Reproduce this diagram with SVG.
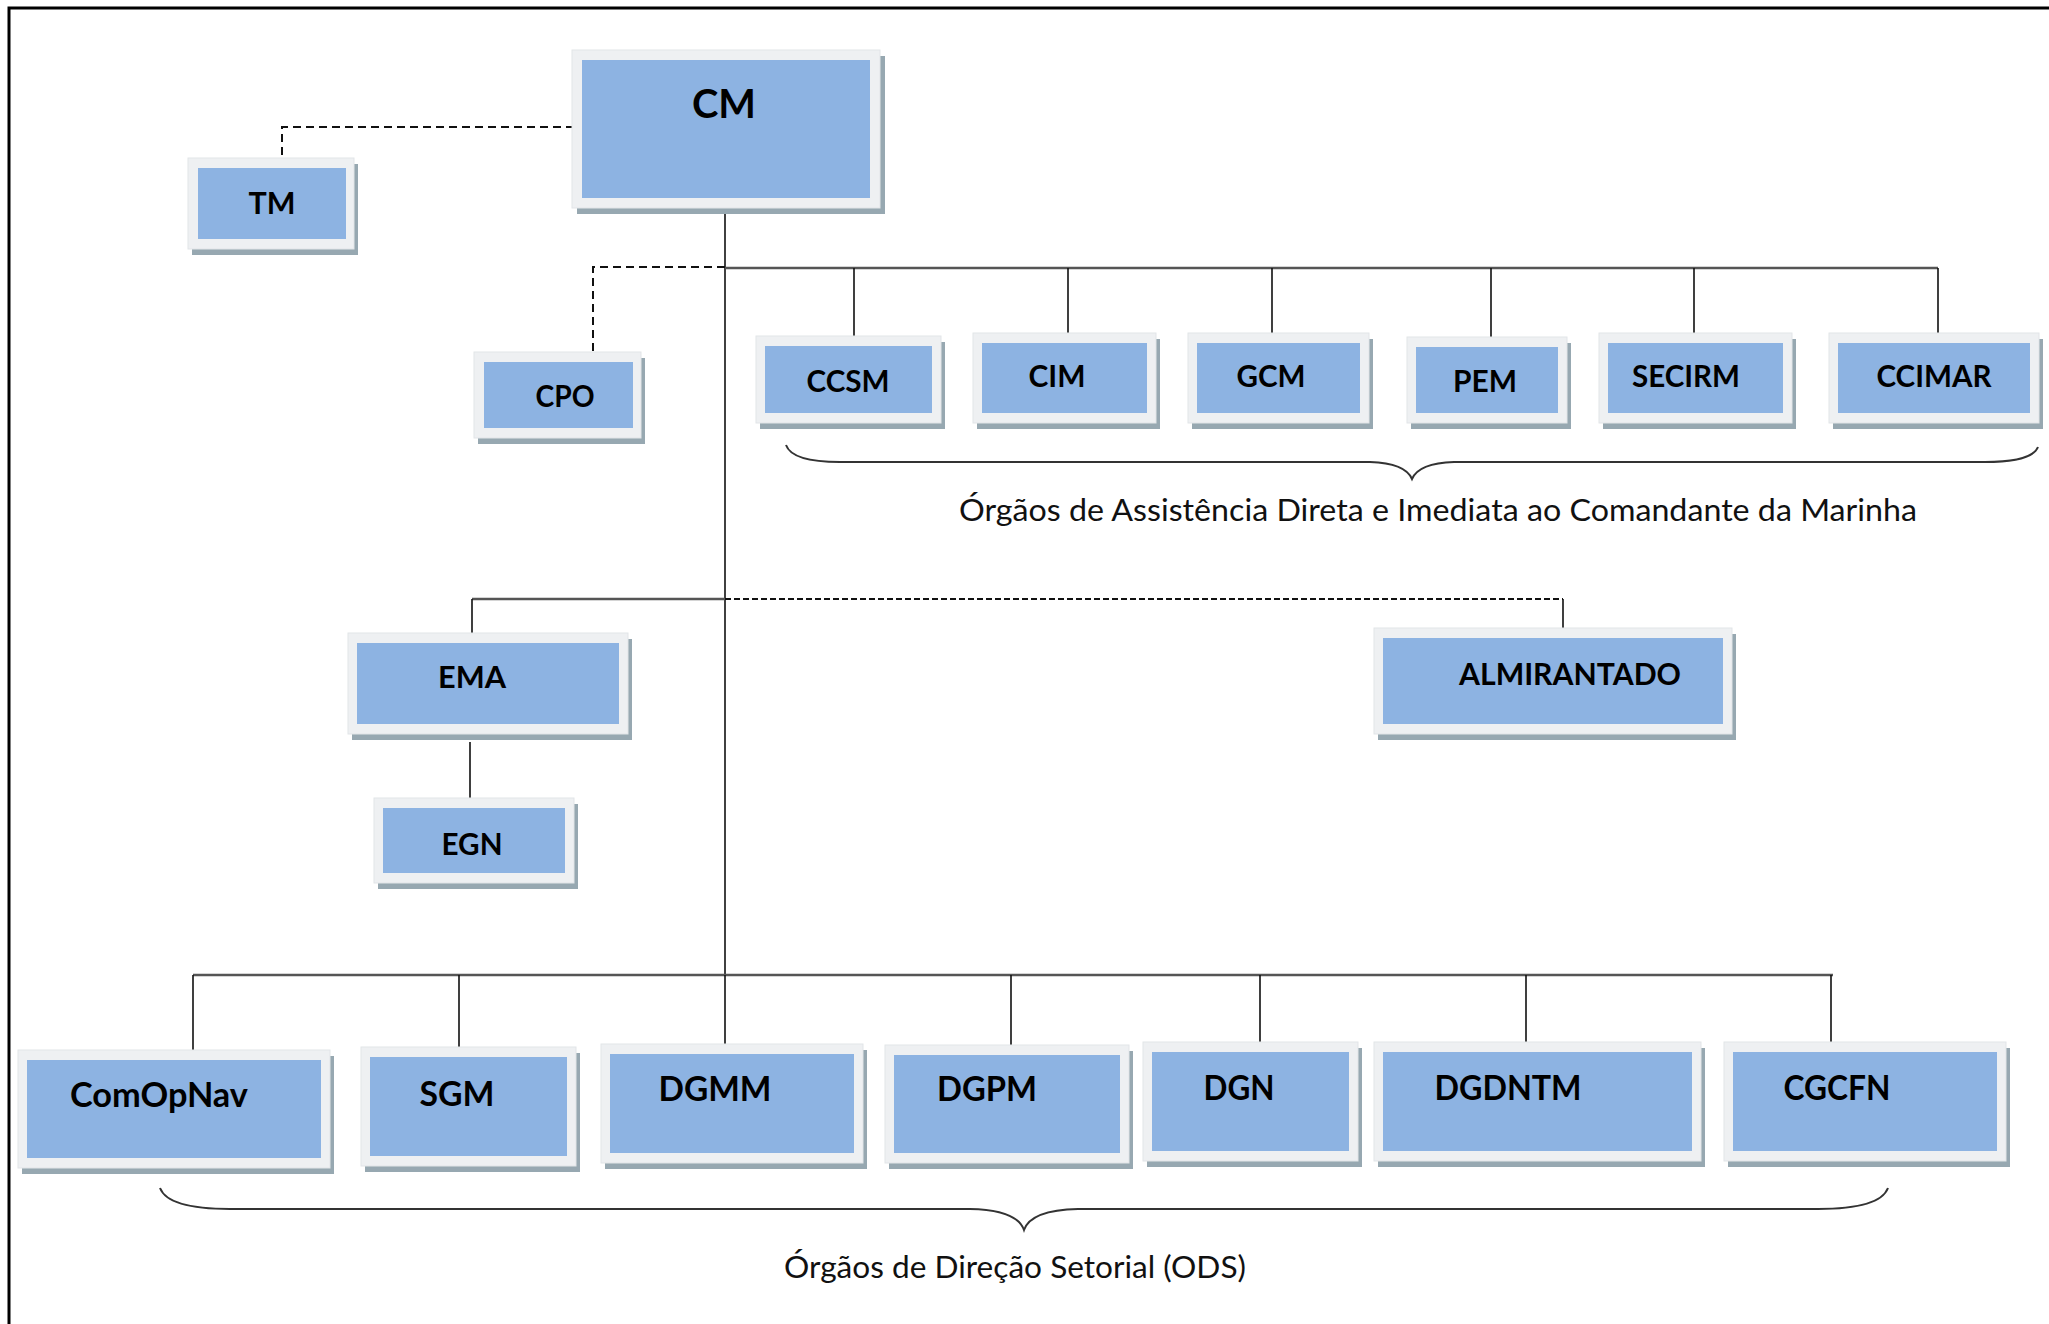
<svg xmlns="http://www.w3.org/2000/svg" width="2049" height="1324" viewBox="0 0 2049 1324">
<style>
.sh{fill:#97A8B1}
.fr{fill:#EEF0F2;stroke:#E2E5E8;stroke-width:1}
.in{fill:#8DB3E2}
.lb{font-family:"Lato","Liberation Sans",sans-serif;font-weight:bold;fill:#000;text-anchor:middle}
.s1{font-size:31px}
.s2{font-size:33.5px}
.s3{font-size:40px}
.cap{font-family:"Lato","Liberation Sans",sans-serif;font-size:30.5px;fill:#111;text-anchor:middle}
.ln{stroke:#111;stroke-width:1.6;fill:none}
.bus{stroke:#555;stroke-width:2.6;fill:none}
.dsh{stroke:#111;stroke-width:2;fill:none;stroke-dasharray:8 5}
.dsh2{stroke:#111;stroke-width:2.2;fill:none;stroke-dasharray:6 3}
.br{stroke:#333;stroke-width:2;fill:none}
</style>
<rect x="0" y="0" width="2049" height="1324" fill="#FFFFFF"/>
<g id="frame">
<path d="M9,1324 L9,8 L2049,8" stroke="#000" stroke-width="3" fill="none"/>
</g>
<g id="connectors">
<path class="dsh" d="M574,127 L282,127 L282,158"/>
<path class="ln" d="M725,213 L725,975"/>
<path class="dsh" d="M725,267 L593,267 L593,352"/>
<path class="bus" d="M725,268 L1938,268"/>
<path class="ln" d="M854,268 L854,337 M1068,268 L1068,342 M1272,268 L1272,345 M1491,268 L1491,345 M1694,268 L1694,342 M1938,268 L1938,346"/>
<path class="bus" d="M472,599 L725,599"/>
<path class="dsh2" d="M725,599 L1563,599"/>
<path class="ln" d="M472,599 L472,633 M1563,599 L1563,628 M470,742 L470,800"/>
<path class="bus" d="M193,975 L1833,975"/>
<path class="ln" d="M193,975 L193,1057 M459,975 L459,1053 M725,975 L725,1054 M1011,975 L1011,1053 M1260,975 L1260,1052 M1526,975 L1526,1049 M1831,975 L1831,1044"/>
</g>
<g id="braces">
<path class="br" d="M786,445 Q792,462 840,462 L1370,462 Q1405,463 1412,479 Q1419,463 1454,462 L1985,462 Q2032,462 2038,447"/>
<path class="br" d="M160,1188 Q168,1209 230,1209 L970,1209 Q1017,1210 1024,1230 Q1031,1210 1078,1209 L1818,1209 Q1880,1209 1888,1188"/>
</g>
<g id="CM"><rect class="sh" x="577" y="56" width="308" height="158"/><rect class="fr" x="572" y="50" width="308" height="158"/><rect class="in" x="582" y="60" width="288" height="138"/><text class="lb s3" x="724" y="118" textLength="64" lengthAdjust="spacingAndGlyphs">CM</text></g>
<g id="TM"><rect class="sh" x="192" y="164" width="166" height="91"/><rect class="fr" x="188" y="158" width="166" height="91"/><rect class="in" x="198" y="168" width="148" height="71"/><text class="lb s1" x="272" y="214" textLength="47" lengthAdjust="spacingAndGlyphs">TM</text></g>
<g id="CPO"><rect class="sh" x="478" y="358" width="167" height="86"/><rect class="fr" x="474" y="352" width="167" height="86"/><rect class="in" x="484" y="362" width="149" height="66"/><text class="lb s1" x="565" y="407" textLength="59" lengthAdjust="spacingAndGlyphs">CPO</text></g>
<g id="CCSM"><rect class="sh" x="760" y="342" width="185" height="87"/><rect class="fr" x="756" y="336" width="185" height="87"/><rect class="in" x="765" y="346" width="167" height="67"/><text class="lb s1" x="848" y="392" textLength="83" lengthAdjust="spacingAndGlyphs">CCSM</text></g>
<g id="CIM"><rect class="sh" x="977" y="339" width="183" height="90"/><rect class="fr" x="973" y="333" width="183" height="90"/><rect class="in" x="982" y="343" width="165" height="70"/><text class="lb s1" x="1057" y="387" textLength="57" lengthAdjust="spacingAndGlyphs">CIM</text></g>
<g id="GCM"><rect class="sh" x="1192" y="339" width="181" height="90"/><rect class="fr" x="1188" y="333" width="181" height="90"/><rect class="in" x="1197" y="343" width="163" height="70"/><text class="lb s1" x="1271" y="387" textLength="69" lengthAdjust="spacingAndGlyphs">GCM</text></g>
<g id="PEM"><rect class="sh" x="1411" y="343" width="160" height="86"/><rect class="fr" x="1407" y="337" width="160" height="86"/><rect class="in" x="1416" y="347" width="142" height="66"/><text class="lb s1" x="1485" y="392" textLength="64" lengthAdjust="spacingAndGlyphs">PEM</text></g>
<g id="SECIRM"><rect class="sh" x="1603" y="339" width="193" height="90"/><rect class="fr" x="1599" y="333" width="193" height="90"/><rect class="in" x="1608" y="343" width="175" height="70"/><text class="lb s1" x="1686" y="387" textLength="108" lengthAdjust="spacingAndGlyphs">SECIRM</text></g>
<g id="CCIMAR"><rect class="sh" x="1833" y="339" width="210" height="90"/><rect class="fr" x="1829" y="333" width="210" height="90"/><rect class="in" x="1838" y="343" width="192" height="70"/><text class="lb s1" x="1934" y="387" textLength="115" lengthAdjust="spacingAndGlyphs">CCIMAR</text></g>
<g id="EMA"><rect class="sh" x="352" y="639" width="280" height="101"/><rect class="fr" x="348" y="633" width="280" height="101"/><rect class="in" x="357" y="643" width="262" height="81"/><text class="lb s1" x="472" y="688" textLength="68" lengthAdjust="spacingAndGlyphs">EMA</text></g>
<g id="ALMIRANTADO"><rect class="sh" x="1378" y="634" width="358" height="106"/><rect class="fr" x="1374" y="628" width="358" height="106"/><rect class="in" x="1383" y="638" width="340" height="86"/><text class="lb s1" x="1570" y="685" textLength="222" lengthAdjust="spacingAndGlyphs">ALMIRANTADO</text></g>
<g id="EGN"><rect class="sh" x="378" y="804" width="200" height="85"/><rect class="fr" x="374" y="798" width="200" height="85"/><rect class="in" x="383" y="808" width="182" height="65"/><text class="lb s1" x="472" y="855" textLength="61" lengthAdjust="spacingAndGlyphs">EGN</text></g>
<g id="ComOpNav"><rect class="sh" x="22" y="1056" width="312" height="118"/><rect class="fr" x="18" y="1050" width="312" height="118"/><rect class="in" x="27" y="1060" width="294" height="98"/><text class="lb s2" x="159" y="1107" textLength="178" lengthAdjust="spacingAndGlyphs">ComOpNav</text></g>
<g id="SGM"><rect class="sh" x="365" y="1053" width="215" height="119"/><rect class="fr" x="361" y="1047" width="215" height="119"/><rect class="in" x="370" y="1057" width="197" height="99"/><text class="lb s2" x="457" y="1106" textLength="75" lengthAdjust="spacingAndGlyphs">SGM</text></g>
<g id="DGMM"><rect class="sh" x="605" y="1050" width="262" height="119"/><rect class="fr" x="601" y="1044" width="262" height="119"/><rect class="in" x="610" y="1054" width="244" height="99"/><text class="lb s2" x="715" y="1101" textLength="113" lengthAdjust="spacingAndGlyphs">DGMM</text></g>
<g id="DGPM"><rect class="sh" x="889" y="1051" width="244" height="118"/><rect class="fr" x="885" y="1045" width="244" height="118"/><rect class="in" x="894" y="1055" width="226" height="98"/><text class="lb s2" x="987" y="1101" textLength="100" lengthAdjust="spacingAndGlyphs">DGPM</text></g>
<g id="DGN"><rect class="sh" x="1147" y="1048" width="215" height="119"/><rect class="fr" x="1143" y="1042" width="215" height="119"/><rect class="in" x="1152" y="1052" width="197" height="99"/><text class="lb s2" x="1239" y="1100" textLength="71" lengthAdjust="spacingAndGlyphs">DGN</text></g>
<g id="DGDNTM"><rect class="sh" x="1378" y="1048" width="327" height="119"/><rect class="fr" x="1374" y="1042" width="327" height="119"/><rect class="in" x="1383" y="1052" width="309" height="99"/><text class="lb s2" x="1508" y="1100" textLength="147" lengthAdjust="spacingAndGlyphs">DGDNTM</text></g>
<g id="CGCFN"><rect class="sh" x="1728" y="1048" width="282" height="119"/><rect class="fr" x="1724" y="1042" width="282" height="119"/><rect class="in" x="1733" y="1052" width="264" height="99"/><text class="lb s2" x="1837" y="1100" textLength="107" lengthAdjust="spacingAndGlyphs">CGCFN</text></g>
<g id="captions">
<text class="cap" x="1438" y="521" textLength="958" lengthAdjust="spacingAndGlyphs">Órgãos de Assistência Direta e Imediata ao Comandante da Marinha</text>
<text class="cap" x="1015" y="1278" textLength="462" lengthAdjust="spacingAndGlyphs">Órgãos de Direção Setorial (ODS)</text>
</g>
</svg>
